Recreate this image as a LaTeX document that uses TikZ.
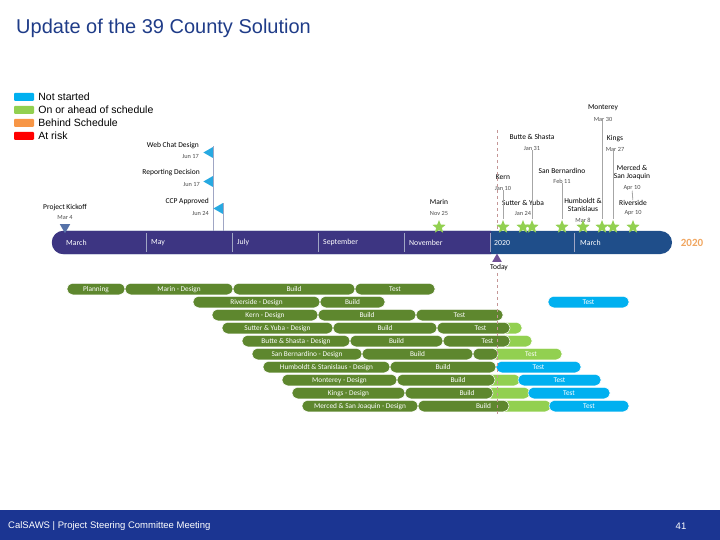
\documentclass[tikz,border=0pt]{standalone}
\usepackage{fontspec}
\setmainfont{Liberation Sans}
\newfontfamily\calfont{Carlito}
\usetikzlibrary{positioning,shapes.geometric}
\definecolor{titleblue}{RGB}{31,60,136}
\definecolor{nsblue}{RGB}{0,176,240}
\definecolor{ltgreen}{RGB}{146,208,80}
\definecolor{behindorange}{RGB}{247,150,70}
\definecolor{riskred}{RGB}{255,0,0}
\definecolor{dkgreen}{RGB}{94,135,46}
\definecolor{barpurple}{RGB}{61,53,130}
\definecolor{barblue}{RGB}{31,78,138}
\definecolor{flagblue}{RGB}{39,169,225}
\definecolor{kickblue}{RGB}{86,114,168}
\definecolor{poleline}{RGB}{160,166,196}
\definecolor{todayline}{RGB}{196,150,150}
\definecolor{todaypurple}{RGB}{112,80,150}
\definecolor{yearorange}{RGB}{240,166,96}
\definecolor{footblue}{RGB}{27,53,146}
\newcommand{\ganttTask}[6]{\node[taskbar, fill=#1, minimum width={(#4-#3)*1pt}] (#2) at ({(#3+#4)/2},#5) {#6};}

\begin{document}
\begin{tikzpicture}[x=1pt, y=-1pt]
  \tikzset{
    taskbar/.style={rectangle, rounded corners=5.5pt, draw=white, line width=0.5pt,
      minimum height=11.5pt, inner sep=0pt, text depth=0.6pt, text=white, font=\calfont\fontsize{7.3}{8}\selectfont},
    legkey/.style={rectangle, rounded corners=1pt, minimum width=20pt, minimum height=8pt, inner sep=0pt},
    legtext/.style={inner sep=0pt, font=\fontsize{10.5}{12}\selectfont},
    msname/.style={inner sep=0pt, align=center, font=\calfont\fontsize{7.5}{8.5}\selectfont},
    msdate/.style={inner sep=0pt, text=black!70, font=\calfont\fontsize{6.3}{7}\selectfont},
    msstar/.style={star, star points=5, star point ratio=2.3, fill=ltgreen, minimum size=14pt, inner sep=0pt},
    flag/.style={regular polygon, regular polygon sides=3, shape border rotate=90, fill=flagblue,
      minimum size=12.5pt, inner sep=0pt},
    pole/.style={poleline, line width=1pt},
    msline/.style={black!35, line width=0.8pt},
    month/.style={anchor=west, inner sep=0pt, text=white, font=\calfont\fontsize{7.8}{9}\selectfont},
    monthsep/.style={poleline, line width=0.6pt},
    todaymark/.style={todayline, dashed, line width=0.8pt},
    foottext/.style={inner sep=0pt, text=white, font=\fontsize{9.5}{11}\selectfont}
  }
  \useasboundingbox (0,0) rectangle (720,540);

  % title and legend
  \node[anchor=west, inner sep=0pt, text=titleblue, font=\fontsize{20}{24}\selectfont] (title) at (16,28) {Update of the 39 County Solution};
  \node[legkey, fill=nsblue] (keyNS) at (24,97) {};
  \node[legtext, right=4pt of keyNS] (txtNS) {Not started};
  \node[legkey, fill=ltgreen] (keyOK) at (24,110) {};
  \node[legtext, right=4pt of keyOK] (txtOK) {On or ahead of schedule};
  \node[legkey, fill=behindorange] (keyBS) at (24,123) {};
  \node[legtext, right=4pt of keyBS] (txtBS) {Behind Schedule};
  \node[legkey, fill=riskred] (keyAR) at (24,136) {};
  \node[legtext, right=4pt of keyAR] (txtAR) {At risk};

  % timeline bar
  \node[rectangle, rounded corners=11.5pt, fill=barblue, minimum width=620pt, minimum height=23pt, inner sep=0pt] (bar) at (362,242.5) {};
  \begin{scope}
    \clip (40,225) rectangle (491,260);
    \fill[barpurple, rounded corners=11.5pt] (bar.north west) rectangle (bar.south east);
  \end{scope}
  \foreach \sx in {146,232,318,404,490,574}
    \draw[monthsep] (\sx,233) -- (\sx,252);
  \node[month] (mMar) at (66,242.5) {March};
  \node[month] (mMay) at (151,242.5) {May};
  \node[month] (mJul) at (237,242.5) {July};
  \node[month] (mSep) at (323,242.5) {September};
  \node[month] (mNov) at (409,242.5) {November};
  \node[month] (mJan) at (494,242.5) {2020};
  \node[month] (mMar2) at (580,242.5) {March};
  \node[inner sep=0pt, text=yearorange, font=\calfont\bfseries\fontsize{11}{12}\selectfont] (year) at (692,243) {2020};

  % milestones before 2020
  \node[msname] (kickoff) at (65,208) {Project Kickoff};
  \node[msdate] (kickoffDate) at (65,218) {Mar 4};
  \node[regular polygon, regular polygon sides=3, shape border rotate=180, fill=kickblue, minimum size=12pt, inner sep=0pt, anchor=north] (kickoffMark) at (65,224) {};
  \coordinate (poleA) at (213,146);
  \coordinate (poleB) at (223,203);
  \draw[pole] (poleA) -- (poleA |- bar.north);
  \draw[pole] (poleB) -- (poleB |- bar.north);
  \node[msname, anchor=east] (webchat) at (199,146) {Web Chat Design};
  \node[msdate, anchor=east] (webchatDate) at (199,156) {Jun 17};
  \node[flag, anchor=east] (webchatFlag) at (213,152.5) {};
  \node[msname, anchor=east] (reporting) at (200,173) {Reporting Decision};
  \node[msdate, anchor=east] (reportingDate) at (200,184) {Jun 17};
  \node[flag, anchor=east] (reportingFlag) at (213,181.5) {};
  \node[msname, anchor=east] (ccp) at (209,202) {CCP Approved};
  \node[msdate, anchor=east] (ccpDate) at (209,213) {Jun 24};
  \node[flag, anchor=east] (ccpFlag) at (223,208.5) {};
  \node[msname] (marin) at (439,202) {Marin};
  \node[msdate] (marinDate) at (439,213) {Nov 25};

  % milestones in 2020
  \node[msname] (monterey) at (603,108) {Monterey};
  \node[msdate] (montereyDate) at (603,119) {Mar 30};
  \node[msname] (kings) at (615,139) {Kings};
  \node[msdate] (kingsDate) at (615,149) {Mar 27};
  \node[msname] (butte) at (532,137) {Butte \& Shasta};
  \node[msdate] (butteDate) at (532,148) {Jan 31};
  \node[msname] (sanbern) at (562,171) {San Bernardino};
  \node[msdate] (sanbernDate) at (562,181) {Feb 11};
  \node[msname] (kern) at (503,177) {Kern};
  \node[msdate] (kernDate) at (503,188) {Jan 10};
  \node[msname] (merced) at (632,172.5) {Merced \&\\San Joaquin};
  \node[msdate] (mercedDate) at (632,188) {Apr 10};
  \node[msname] (sutter) at (523,203) {Sutter \& Yuba};
  \node[msdate] (sutterDate) at (523,213) {Jan 24};
  \node[msname] (humboldt) at (583,205) {Humboldt \&\\Stanislaus};
  \node[msdate] (humboldtDate) at (583,220) {Mar 8};
  \node[msname] (riverside) at (633,203) {Riverside};
  \node[msdate] (riversideDate) at (633,213) {Apr 10};

  \foreach \nm/\sx in {marin/439,kern/503,sutter/523,butte/532,sanbern/562,humboldt/583,monterey/602,kings/613,riverside/633}
    \node[msstar] (\nm Star) at (\sx,227) {};
  \draw[msline] (montereyStar |- montereyDate.south) -- (montereyStar);
  \draw[msline] (kingsStar |- kingsDate.south) -- (kingsStar);
  \draw[msline] (butteDate) -- (butteStar);
  \draw[msline] (sanbernDate) -- (sanbernStar);
  \draw[msline] (kernDate) -- (kernStar);
  \draw[msline] (mercedDate) -- (riverside);

  % gantt rows
  \ganttTask{dkgreen}{planning}{67}{125}{289}{Planning}
  \ganttTask{dkgreen}{marinD}{125}{233}{289}{Marin - Design}
  \ganttTask{dkgreen}{marinB}{233}{355}{289}{Build}
  \ganttTask{dkgreen}{marinT}{355}{435}{289}{Test}
  \ganttTask{dkgreen}{riversideD}{193}{320}{302}{Riverside - Design}
  \ganttTask{dkgreen}{riversideB}{320}{385}{302}{Build}
  \ganttTask{nsblue}{riversideT}{548}{629}{302}{Test}
  \ganttTask{dkgreen}{kernD}{212}{318}{315}{Kern - Design}
  \ganttTask{dkgreen}{kernB}{318}{416}{315}{Build}
  \ganttTask{dkgreen}{kernT}{416}{503}{315}{Test}
  \ganttTask{dkgreen}{sutterD}{222}{333}{328}{Sutter \& Yuba - Design}
  \ganttTask{dkgreen}{sutterB}{333}{437}{328}{Build}
  \ganttTask{ltgreen}{sutterX}{480}{522}{328}{}
  \ganttTask{dkgreen}{sutterT}{437}{510}{328}{\hspace{14pt}Test}
  \ganttTask{dkgreen}{butteD}{242}{350}{341}{Butte \& Shasta - Design}
  \ganttTask{dkgreen}{butteB}{350}{443}{341}{Build}
  \ganttTask{ltgreen}{butteX}{480}{532}{341}{}
  \ganttTask{dkgreen}{butteT}{443}{510}{341}{\hspace{22pt}Test}
  \ganttTask{dkgreen}{sanbernD}{252}{362}{354}{San Bernardino - Design}
  \ganttTask{dkgreen}{sanbernB}{362}{473}{354}{Build}
  \ganttTask{ltgreen}{sanbernT}{490}{562}{354}{\hspace{10pt}Test}
  \ganttTask{dkgreen}{sanbernX}{473}{498}{354}{}
  \ganttTask{dkgreen}{humboldtD}{263}{390}{367}{Humboldt \& Stanislaus - Design}
  \ganttTask{dkgreen}{humboldtB}{390}{496}{367}{Build}
  \ganttTask{nsblue}{humboldtT}{496}{581}{367}{Test}
  \ganttTask{dkgreen}{montereyD}{282}{397}{380}{Monterey - Design}
  \ganttTask{ltgreen}{montereyX}{485}{520}{380}{}
  \ganttTask{dkgreen}{montereyB}{397}{495}{380}{\hspace{24pt}Build}
  \ganttTask{nsblue}{montereyT}{518}{601}{380}{Test}
  \ganttTask{dkgreen}{kingsD}{292}{405}{393}{Kings - Design}
  \ganttTask{ltgreen}{kingsX}{485}{530}{393}{}
  \ganttTask{dkgreen}{kingsB}{405}{493}{393}{\hspace{36pt}Build}
  \ganttTask{nsblue}{kingsT}{528}{610}{393}{Test}
  \ganttTask{dkgreen}{mercedD}{302}{418}{406}{Merced \& San Joaquin - Design}
  \ganttTask{ltgreen}{mercedX}{495}{551}{406}{}
  \ganttTask{dkgreen}{mercedB}{418}{509}{406}{\hspace{40pt}Build}
  \ganttTask{nsblue}{mercedT}{549}{629}{406}{Test}

  % today marker
  \coordinate (todayTop) at (497,130);
  \coordinate (todayEnd) at (497,416);
  \draw[todaymark] (todayTop) -- (todayTop |- bar.north);
  \node[regular polygon, regular polygon sides=3, fill=todaypurple, minimum size=11pt, inner sep=0pt, anchor=south] (todayMark) at (497,262) {};
  \node[inner sep=0pt, font=\calfont\fontsize{7.5}{8.5}\selectfont] (today) at (499,268) {Today};
  \draw[todaymark] (todayEnd |- today.south) ++(0,2) -- (todayEnd);

  % footer
  \fill[footblue] (0,510) rectangle (720,540);
  \node[foottext, anchor=west] (footer) at (8,526) {CalSAWS | Project Steering Committee Meeting};
  \node[foottext] (pageno) at (681,526) {41};
\end{tikzpicture}
\end{document}
